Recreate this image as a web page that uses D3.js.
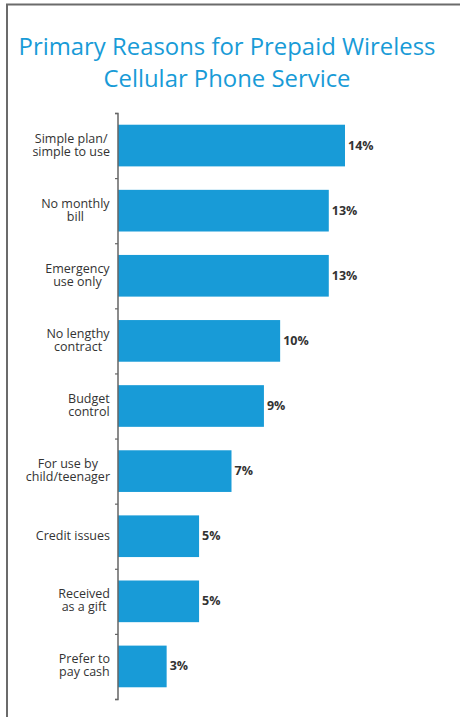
<!DOCTYPE html>
<html><head><meta charset="utf-8">
<script src="https://cdn.jsdelivr.net/npm/d3@7"></script>
<style>body{margin:0;background:#fff}svg{display:block}</style>
</head><body>
<script>
const categories = [
  ["Simple plan/","simple to use"],
  ["No monthly","bill"],
  ["Emergency","use only"],
  ["No lengthy","contract"],
  ["Budget","control"],
  ["For use by","child/teenager"],
  ["Credit issues"],
  ["Received","as a gift"],
  ["Prefer to","pay cash"]
];
const values = [14, 13, 13, 10, 9, 7, 5, 5, 3];
const valueLabels = ["14%","13%","13%","10%","9%","7%","5%","5%","3%"];
const titleLines = ["Primary Reasons for Prepaid Wireless","Cellular Phone Service"];

const W = 460, H = 717;
const svg = d3.select("body").append("svg").attr("width", W).attr("height", H);

// frame
svg.append("line").attr("x1",6).attr("x2",W).attr("y1",4.5).attr("y2",4.5).attr("stroke","#6b6b6b").attr("stroke-width",2);
svg.append("line").attr("x1",7).attr("x2",7).attr("y1",4).attr("y2",H).attr("stroke","#6b6b6b").attr("stroke-width",2);

// title
const blue = "#189bd7";
const tl = svg.append("g");
titleLines.forEach((t,i)=>{
  tl.append("text").attr("x",227).attr("y",55+i*32).attr("text-anchor","middle")
    .attr("font-family","Open Sans, sans-serif").attr("font-size",24).attr("fill",blue).text(t);
});
// fit first line width to ~417px
const t0 = tl.select("text").node();
const w0 = t0.getComputedTextLength();
const fs = 24*417/w0;
tl.selectAll("text").attr("font-size",fs);

const x0 = 118;
const x = d3.scaleLinear().domain([0, 14]).range([x0, x0 + 227]);
const y = d3.scaleBand().domain(d3.range(categories.length)).range([113, 699]).paddingInner(0.36).paddingOuter(0.18);

// bars
svg.append("g").selectAll("rect").data(values).join("rect")
  .attr("x", x(0)).attr("y",(d,i)=>y(i)).attr("width",d=>x(d)-x(0)).attr("height",y.bandwidth()).attr("fill",blue);

// axis
const yAxisScale = d3.scaleLinear().domain([0, categories.length]).range([113, 699]);
const ax = svg.append("g").attr("transform",`translate(${x0},0)`)
  .call(d3.axisLeft(yAxisScale).ticks(categories.length).tickValues(d3.range(categories.length+1)).tickSize(3).tickFormat(""));
ax.select(".domain").attr("stroke","#666").attr("stroke-width",1.5).attr("d",`M-3,113.5H0V699.5H-3`);
ax.selectAll(".tick line").attr("stroke","#666").attr("stroke-width",1.2);

// category labels
const cg = svg.append("g");
categories.forEach((lines,i)=>{
  const c = y(i) + y.bandwidth()/2;
  const t = cg.append("text").attr("text-anchor","middle").attr("font-family","Open Sans, sans-serif")
    .attr("font-size",12.5).attr("fill","#333");
  if (lines.length === 1) {
    t.append("tspan").attr("x",0).attr("y",c+4).text(lines[0]);
  } else {
    t.append("tspan").attr("x",0).attr("y",c-3).text(lines[0]);
    t.append("tspan").attr("x",0).attr("y",c+10).text(lines[1]);
  }
  const bb = t.node().getBBox();
  // right edge at 110, each label block centered on its widest line
  t.attr("transform",`translate(${110 - bb.width/2},0)`);
});

// value labels
svg.append("g").selectAll("text").data(values).join("text")
  .attr("x",d=>x(d)+3).attr("y",(d,i)=>y(i)+y.bandwidth()/2+4)
  .attr("font-family","Open Sans, sans-serif").attr("font-weight","bold").attr("font-size",12.5).attr("fill","#333")
  .text((d,i)=>valueLabels[i]);
</script>
</body></html>
